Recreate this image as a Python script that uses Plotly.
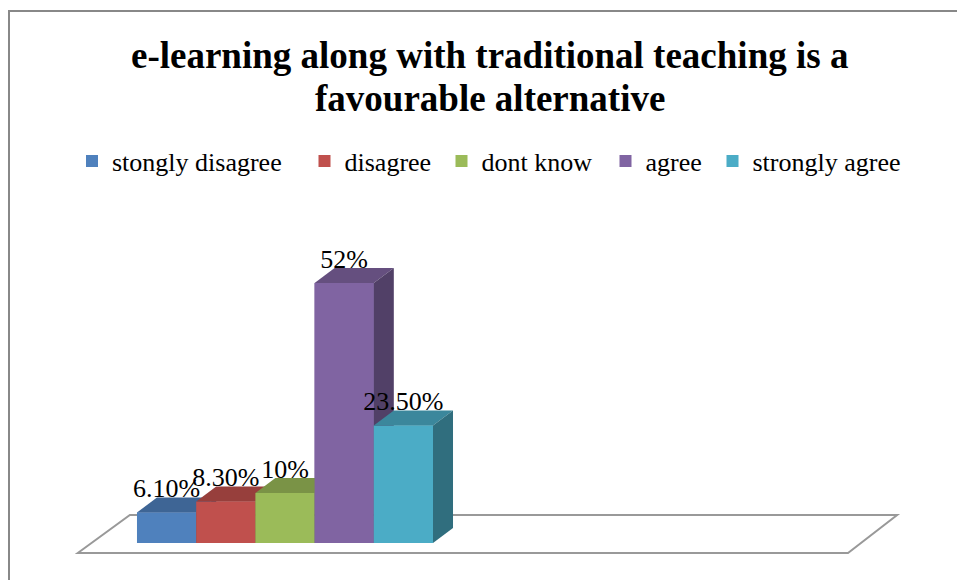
import plotly.graph_objects as go

# ---- data ----
categories = ["stongly disagree", "disagree", "dont know", "agree", "strongly agree"]
values = [6.1, 8.3, 10, 52, 23.5]
value_labels = ["6.10%", "8.30%", "10%", "52%", "23.50%"]
colors = ["#4F81BD", "#C0504D", "#9BBB59", "#8064A2", "#4BACC6"]
title_lines = ["e-learning along with traditional teaching is a", "favourable alternative"]

# ---- geometry / style ----
W, H = 957, 580
BAR_W = 1.0
DX, DY = 0.338, 3.0          # 3-D depth offset (data units)
LABEL_SHIFT = -1.2           # label baseline tweak (data units)
X_RANGE = [-2.814, 13.351]
Y_RANGE = [-7.4, 108.6]
FLOOR = dict(x_front0=-1.5, x_front1=11.51, x_back0=-0.62, x_back1=12.34, y_front=-2.0, y_back=5.6)
FONT = "Liberation Serif"
TITLE_Y_PX = [56, 98]
LEGEND_SWATCH_X_PX = [95.5, 328, 465, 629, 736]   # legend swatch centres
LEGEND_Y_PX = 161


def shade(hexc, f):
    h = hexc.lstrip("#")
    r, g, b = (int(h[i:i + 2], 16) for i in (0, 2, 4))
    return "#%02x%02x%02x" % (int(r * f), int(g * f), int(b * f))


fig = go.Figure()

legend_ids = ["legend"] + [f"legend{k}" for k in range(2, len(categories) + 1)]

# legend-bearing bars (front faces)
for i, (cat, v, col) in enumerate(zip(categories, values, colors)):
    fig.add_trace(go.Bar(x=[i], y=[v], width=BAR_W, name=cat, legend=legend_ids[i],
                         marker=dict(color=col, line=dict(width=0)),
                         hoverinfo="skip"))

# 3-D faces, drawn left to right
for i, (v, col) in enumerate(zip(values, colors)):
    x0, x1 = i - BAR_W / 2, i + BAR_W / 2
    faces = [
        ([x0, x1, x1, x0, x0], [0, 0, v, v, 0], col),
        ([x0, x1, x1 + DX, x0 + DX, x0], [v, v, v + DY, v + DY, v], shade(col, 0.79)),
        ([x1, x1 + DX, x1 + DX, x1, x1], [0, DY, v + DY, v, 0], shade(col, 0.64)),
    ]
    for fx, fy, fc in faces:
        fig.add_trace(go.Scatter(x=fx, y=fy, mode="lines", fill="toself",
                                 fillcolor=fc, line=dict(width=0, color=fc),
                                 showlegend=False, hoverinfo="skip"))

# data labels
fig.add_trace(go.Scatter(x=list(range(len(values))), y=[v + DY + LABEL_SHIFT for v in values],
                         mode="text", text=value_labels, textposition="top center",
                         textfont=dict(family=FONT, size=26, color="black"),
                         showlegend=False, hoverinfo="skip"))

f = FLOOR
floor_path = (f"M {f['x_front0']},{f['y_front']} L {f['x_back0']},{f['y_back']} "
              f"L {f['x_back1']},{f['y_back']} L {f['x_front1']},{f['y_front']} Z")

title_annotations = [
    dict(text="<b>" + line + "</b>", xref="paper", yref="paper",
         x=490 / W, y=1 - ypx / H, xanchor="center", yanchor="middle", showarrow=False,
         font=dict(family=FONT, size=37, color="black"))
    for line, ypx in zip(title_lines, TITLE_Y_PX)
]

legend_layouts = {}
for lid, sx in zip(legend_ids, LEGEND_SWATCH_X_PX):
    legend_layouts[lid] = dict(
        orientation="h", x=(sx - 23.5) / W, xanchor="left",
        y=1 - LEGEND_Y_PX / H, yanchor="middle",
        font=dict(family=FONT, size=26, color="black"),
        bgcolor="rgba(0,0,0,0)", borderwidth=0)

fig.update_layout(
    width=W, height=H,
    margin=dict(l=0, r=0, t=0, b=0),
    paper_bgcolor="white", plot_bgcolor="white",
    barmode="overlay",
    xaxis=dict(range=X_RANGE, visible=False, fixedrange=True),
    yaxis=dict(range=Y_RANGE, visible=False, fixedrange=True),
    showlegend=True,
    shapes=[
        dict(type="path", path=floor_path, xref="x", yref="y", layer="below",
             fillcolor="white", line=dict(color="#999999", width=2)),
        dict(type="rect", xref="paper", yref="paper", x0=9 / W, y0=-0.05, x1=1.05, y1=1 - 11 / H,
             line=dict(color="#888888", width=2), fillcolor="rgba(0,0,0,0)", layer="above"),
    ],
    annotations=title_annotations,
    **legend_layouts,
)

fig.write_html("out.html", config={"displayModeBar": False},
               post_script="document.body.style.margin='0';document.body.style.overflow='hidden';")
